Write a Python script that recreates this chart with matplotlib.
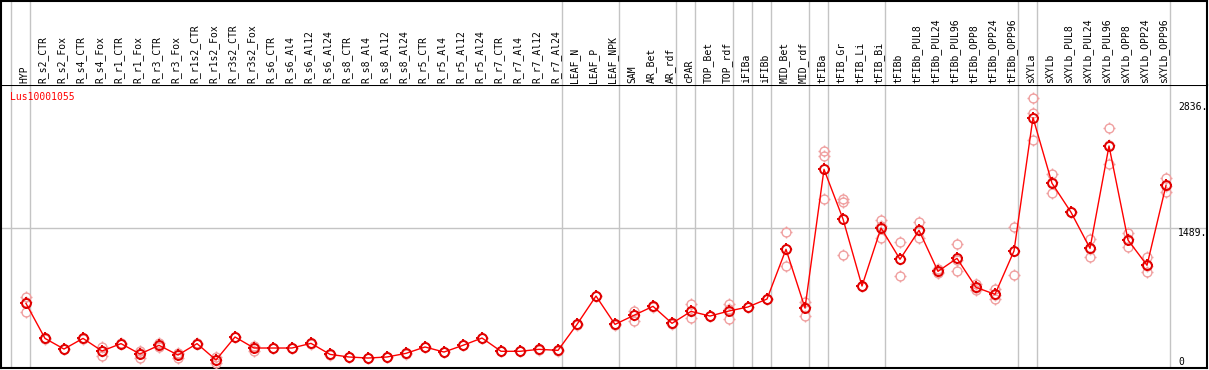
import numpy as np
import matplotlib
matplotlib.use("Agg")
import matplotlib.pyplot as plt
from matplotlib.path import Path

# ---------------- data ----------------
categories = ["HYP",
    "R_s2_CTR", "R_s2_Fox", "R_s4_CTR", "R_s4_Fox", "R_r1_CTR", "R_r1_Fox",
    "R_r3_CTR", "R_r3_Fox", "R_r1s2_CTR", "R_r1s2_Fox", "R_r3s2_CTR", "R_r3s2_Fox",
    "R_s6_CTR", "R_s6_Al4", "R_s6_Al12", "R_s6_Al24", "R_s8_CTR", "R_s8_Al4",
    "R_s8_Al12", "R_s8_Al24", "R_r5_CTR", "R_r5_Al4", "R_r5_Al12", "R_r5_Al24",
    "R_r7_CTR", "R_r7_Al4", "R_r7_Al12", "R_r7_Al24",
    "LEAF_N", "LEAF_P", "LEAF_NPK",
    "SAM", "AR_Bet", "AR_rdf",
    "cPAR",
    "TOP_Bet", "TOP_rdf",
    "iFIBa",
    "iFIBb",
    "MID_Bet", "MID_rdf",
    "tFIBa",
    "tFIB_Gr", "tFIB_Li", "tFIB_Bi",
    "tFIBb", "tFIBb_PUL8", "tFIBb_PUL24", "tFIBb_PUL96", "tFIBb_OPP8", "tFIBb_OPP24", "tFIBb_OPP96",
    "sXYLa",
    "sXYLb", "sXYLb_PUL8", "sXYLb_PUL24", "sXYLb_PUL96", "sXYLb_OPP8", "sXYLb_OPP24", "sXYLb_OPP96"]

group_sizes = [1, 28, 3, 3, 1, 2, 1, 1, 2, 1, 3, 7, 1, 7]

means = [680,
    306, 192, 306, 171, 250, 139, 232, 128, 250, 75, 321, 203,
    203, 203, 253, 135, 107, 96, 107, 146, 214, 160, 232, 310,
    168, 168, 189, 178,
    456, 759, 456,
    553, 649, 467,
    595,
    545, 599,
    642,
    727,
    1259, 631,
    2114,
    1583, 866, 1487,
    1152, 1462, 1023, 1162, 852, 777, 1241,
    2667,
    1965, 1655, 1269, 2364, 1358, 1088, 1943]

rep_a = [750,
    300, 190, 310, 217, 255, 175, 260, 153, 252, 107, 323, 220,
    205, 205, 255, 137, 109, 98, 109, 148, 216, 162, 234, 312,
    170, 170, 191, 180,
    458, 761, 458,
    602, 651, 469,
    670,
    547, 670,
    644,
    729,
    1440, 699,
    2314,
    1793, 870, 1572,
    1333, 1547, 1052, 1316, 888, 831, 1497,
    2873,
    2061, 1657, 1369, 2553, 1430, 1176, 2021]

rep_b = [690,
    312, 195, 306, 171, 245, 150, 225, 138, 248, 72, 319, 214,
    201, 201, 251, 133, 105, 94, 105, 144, 212, 158, 230, 308,
    166, 166, 187, 176,
    454, 757, 454,
    560, 647, 465,
    595,
    543, 615,
    640,
    725,
    1260, 645,
    2257,
    1765, 866, 1513,
    1150, 1462, 1015, 1143, 845, 773, 1241,
    2713,
    1975, 1653, 1265, 2371, 1364, 1075, 1940]

rep_c = [585,
    306, 192, 302, 118, 250, 92, 210, 93, 250, 46, 321, 175,
    203, 203, 253, 135, 107, 96, 107, 146, 214, 160, 232, 310,
    168, 168, 189, 178,
    456, 759, 456,
    495, 649, 467,
    520,
    545, 510,
    642,
    727,
    1077, 549,
    1793,
    1194, 862, 1376,
    973, 1376, 1002, 1027, 824, 727, 984,
    2425,
    1858, 1655, 1173, 2168, 1280, 1013, 1868]

gene_name = "Lus10001055"
ref_ticks = [2836, 1489, 0]

# ---------------- layout ----------------
W, H, DPI = 1209, 370, 100
fig = plt.figure(figsize=(W / DPI, H / DPI), dpi=DPI)
fig.patch.set_facecolor("white")

x0_px, step_px = 26.0, 19.0            # pixel of first category / spacing
left_px, right_px = 1.0, 1207.0
header_bot_px = 85.0
plot_bot_px = 368.0
zero_px, scale = 367.0, 0.0935          # pixel of value 0, px per unit

def px_to_i(p):
    return (p - x0_px) / step_px

xlim = (px_to_i(left_px), px_to_i(right_px))
ylim = ((zero_px - plot_bot_px) / scale, (zero_px - header_bot_px) / scale)

ax = fig.add_axes([left_px / W, (H - plot_bot_px) / H,
                   (right_px - left_px) / W, (plot_bot_px - header_bot_px) / H])
hx = fig.add_axes([left_px / W, (H - header_bot_px) / H,
                   (right_px - left_px) / W, (header_bot_px - 1) / H])

for a in (ax, hx):
    a.set_xlim(*xlim)
    a.set_xticks([])
    a.set_yticks([])
    for s in a.spines.values():
        s.set_linewidth(1.5)
        s.set_color("black")
hx.set_ylim(0, 1)
hx.spines["bottom"].set_visible(False)
ax.set_ylim(*ylim)

grey = "#c4c4c4"
# group separators
ends = np.cumsum(group_sizes) - 1
bounds = np.concatenate([[-1], ends])
for b in bounds:
    xb = b + 4.0 / step_px
    ax.axvline(xb, color=grey, lw=1.0, zorder=1)
    hx.axvline(xb, color=grey, lw=1.0, zorder=1)
ax.axhline(ref_ticks[1], color=grey, lw=1.0, zorder=1)

# header labels
mono = "DejaVu Sans Mono"
idx = np.arange(len(categories))
for i, c in enumerate(categories):
    hx.text(i - 2.0 / step_px, 0.02, c, rotation=90, ha="center", va="bottom",
            fontsize=7, family=mono, color="black")

# marker: circle with four small ticks outside
tick_len = 1.45
verts, codes = [], []
for dx, dy in [(0, 1), (0, -1), (1, 0), (-1, 0)]:
    verts += [[dx, dy], [dx * tick_len, dy * tick_len]]
    codes += [Path.MOVETO, Path.LINETO]
tick_path = Path(verts, codes)

circ_ms = 6.4                  # circle diameter in points
tick_ms = circ_ms * tick_len


def gear_plot(y, color, lw, z):
    ax.plot(idx, y, linestyle="none", marker="o", markersize=circ_ms,
            markerfacecolor="none", markeredgecolor=color,
            markeredgewidth=lw, zorder=z)
    ax.plot(idx, y, linestyle="none", marker=tick_path, markersize=tick_ms,
            markerfacecolor="none", markeredgecolor=color,
            markeredgewidth=lw, zorder=z)


for reps in (rep_a, rep_b, rep_c):
    gear_plot(reps, "#f0a0a0", 1.0, 3)

ax.plot(idx, means, color="red", lw=1.0, zorder=4)
gear_plot(means, "#e00000", 1.4, 5)

# gene name
ax.text(px_to_i(10), (zero_px - 97) / scale, gene_name, color="red",
        fontsize=7, family=mono, ha="left", va="center")

# right-side value labels
xr = px_to_i(1178)
for v in ref_ticks[:2]:
    ax.text(xr, v, f"{v}.", fontsize=7, family=mono, ha="left", va="top")
ax.text(xr, 0, "0", fontsize=7, family=mono, ha="left", va="bottom")

fig.savefig("out.png", dpi=DPI)
